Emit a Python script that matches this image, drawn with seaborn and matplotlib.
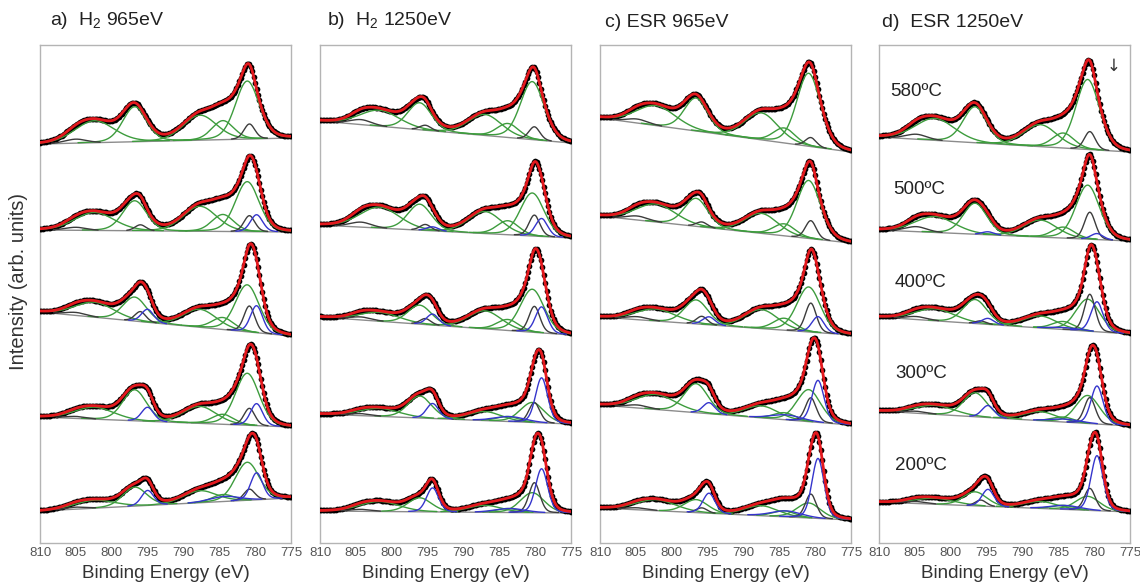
import numpy as np
import pandas as pd
import matplotlib
matplotlib.use("Agg")
import matplotlib.pyplot as plt
import seaborn as sns

sns.set_theme(style="white")
plt.rcParams["font.family"] = ["Liberation Sans", "DejaVu Sans"]
plt.rcParams["mathtext.fontset"] = "custom"
plt.rcParams["mathtext.rm"] = "Liberation Sans"

# ---------------------------------------------------------------- labels
PANEL_TITLES = ["a)  H$_2$ 965eV", "b)  H$_2$ 1250eV", "c) ESR 965eV", "d)  ESR 1250eV"]
TEMPERATURES = ["580ºC", "500ºC", "400ºC", "300ºC", "200ºC"]
X_TICKS = [810, 805, 800, 795, 790, 785, 780, 775]

# ---------------------------------------------------------------- fit components
COMPONENT_NAMES = ["Co2+ 2p3/2", "Co2+ sat A", "Co2+ sat B", "Co2+ 2p1/2", "Co2+ 2p1/2 sat",
                   "Co3+ 2p3/2", "Co3+ 2p1/2", "Co3+ sat", "Co0 2p3/2", "Co0 2p1/2", "Co0 loss"]
COMPONENT_CENTERS = [780.9, 787.5, 784.3, 796.6, 802.2, 780.6, 795.8, 804.8, 779.6, 794.8, 784.0]
COMPONENT_FWHM = [3.9, 5.5, 3.6, 3.9, 6.5, 1.8, 1.8, 3.5, 2.0, 2.0, 5.0]
COMPONENT_KIND = ["green", "green", "green", "green", "green",
                  "black", "black", "black", "blue", "blue", "blue"]
PANEL_SHIFT = [0.2, -0.5, 0.0, 0.0]  # eV offset of each data set

# peak heights, one row per temperature (580, 500, 400, 300, 200 ºC)
HEIGHTS_A = [[58, 25, 19, 35, 22, 15, 0, 4, 0, 0, 0],
             [50, 25, 17, 30, 18, 16, 6, 3, 17, 0, 0],
             [47, 18, 12, 24, 15, 26, 10, 3, 27, 13, 0],
             [52, 17, 10, 31, 12, 17, 0, 2, 22, 14, 0],
             [38, 12, 7, 19, 8, 11, 0, 2, 27, 15, 5]]
HEIGHTS_B = [[58, 21, 14, 27, 16, 13, 5, 5, 0, 0, 0],
             [43, 22, 14, 26, 21, 21, 6, 5, 18, 4, 0],
             [43, 18, 11, 19, 9, 26, 6, 3, 26, 11, 0],
             [20, 9, 5, 22, 8, 20, 0, 2, 45, 15, 5],
             [20, 7, 4, 14, 10, 30, 0, 2, 44, 24, 4]]
HEIGHTS_C = [[73, 27, 15, 33, 20, 9, 0, 4, 0, 0, 0],
             [58, 20, 12, 28, 18, 18, 5, 4, 0, 0, 0],
             [45, 19, 12, 24, 12, 29, 8, 3, 16, 8, 0],
             [32, 12, 7, 29, 15, 24, 0, 3, 42, 11, 5],
             [15, 10, 6, 13, 11, 24, 5, 2, 60, 20, 6]]
HEIGHTS_D = [[70, 22, 15, 36, 22, 18, 0, 5, 0, 0, 0],
             [54, 17, 11, 31, 16, 27, 0, 5, 6, 3, 0],
             [32, 12, 8, 24, 12, 37, 3, 3, 30, 6, 2],
             [28, 9, 5, 24, 9, 26, 0, 2, 38, 12, 3],
             [14, 7, 4, 14, 6, 22, 6, 2, 55, 17, 4]]

# linear background of each spectrum: level at 810 eV and at 775 eV (stacked units)
BACKGROUND_A = [(399, 405), (313, 311), (231, 207), (126, 116), (32, 45)]
BACKGROUND_B = [(422, 400), (318, 305), (226, 208), (129, 119), (32, 30)]
BACKGROUND_C = [(425, 391), (327, 300), (226, 208), (138, 118), (35, 23)]
BACKGROUND_D = [(406, 391), (313, 302), (226, 209), (132, 117), (41, 31)]

HEIGHTS = [HEIGHTS_A, HEIGHTS_B, HEIGHTS_C, HEIGHTS_D]
BACKGROUNDS = [BACKGROUND_A, BACKGROUND_B, BACKGROUND_C, BACKGROUND_D]

# ---------------------------------------------------------------- styling
COLORS = {"green": "#3d9c3d", "black": "#3c3c3c", "blue": "#3535cc"}
BG_COLOR = "#8c8c8c"
FIT_COLOR = "#e3191e"

E_LINE = np.arange(775.0, 810.0001, 0.05)
E_DOTS = np.arange(775.0, 810.0001, 0.2)


def pseudo_voigt(e, center, height, fwhm, eta=0.2):
    u = (e - center) / fwhm
    return height * ((1 - eta) * np.exp(-4 * np.log(2) * u ** 2) + eta / (1 + 4 * u ** 2))


def background(e, levels):
    hi, lo = levels
    return lo + (hi - lo) * (e - 775.0) / 35.0


fig = plt.figure(figsize=(11.4, 5.87), dpi=100)
lefts = [40, 320, 600, 879]
title_x = [0.04, 0.028, 0.02, 0.012]

for p in range(4):
    ax = fig.add_axes([lefts[p] / 1140, 44 / 587, 251 / 1140, 498 / 587])
    for t in range(5):
        heights = HEIGHTS[p][t]
        levels = BACKGROUNDS[p][t]
        bg_line = background(E_LINE, levels)
        bg_dots = background(E_DOTS, levels)
        fit_line = bg_line.copy()
        fit_dots = bg_dots.copy()
        comps = []
        for c, h in enumerate(heights):
            if h <= 0:
                continue
            ctr = COMPONENT_CENTERS[c] + PANEL_SHIFT[p]
            peak = pseudo_voigt(E_LINE, ctr, h, COMPONENT_FWHM[c])
            fit_line += peak
            fit_dots += pseudo_voigt(E_DOTS, ctr, h, COMPONENT_FWHM[c])
            comps.append((COMPONENT_KIND[c], np.where(peak > 0.4, bg_line + peak, np.nan)))

        sns.lineplot(x=E_LINE, y=bg_line, ax=ax, color=BG_COLOR, lw=1.0,
                     estimator=None, sort=False)
        sns.scatterplot(x=E_DOTS, y=fit_dots, ax=ax, color="black", s=17,
                        edgecolor=None, linewidth=0, zorder=3)
        for kind, curve in comps:
            ax.plot(E_LINE, curve, color=COLORS[kind], lw=1.0, zorder=4)
        sns.lineplot(x=E_LINE, y=fit_line, ax=ax, color=FIT_COLOR, lw=2.0,
                     estimator=None, sort=False, zorder=5)

    ax.set_xlim(810, 775)
    ax.set_ylim(0, 498)
    ax.set_xticks(X_TICKS)
    ax.set_xticklabels([str(v) for v in X_TICKS])
    ax.set_yticks([])
    ax.tick_params(axis="x", length=0, pad=3, labelsize=9.5, labelcolor="#555555")
    for s in ax.spines.values():
        s.set_color("#b4b4b4")
        s.set_linewidth(1.0)
    ax.set_xlabel("Binding Energy (eV)", fontsize=13.5, color="#333333", labelpad=4)
    ax.set_ylabel("")
    ax.text(title_x[p], 1.028, PANEL_TITLES[p], transform=ax.transAxes,
            ha="left", va="bottom", fontsize=14, color="#222222")

    if p == 3:
        label_pos = [(0.044, 0.906), (0.056, 0.709), (0.064, 0.524), (0.064, 0.341), (0.064, 0.155)]
        for (lx, ly), txt in zip(label_pos, TEMPERATURES):
            ax.text(lx, ly, txt, transform=ax.transAxes, ha="left", va="center",
                    fontsize=13.5, color="#222222")
        ax.text(0.936, 0.958, "↓", transform=ax.transAxes, ha="center", va="center",
                fontsize=12, color="#333333", family="DejaVu Sans")

fig.text(0.016, 0.521, "Intensity (arb. units)", rotation=90, ha="center", va="center",
         fontsize=14.5, color="#333333")

fig.savefig("out.png", dpi=100)
